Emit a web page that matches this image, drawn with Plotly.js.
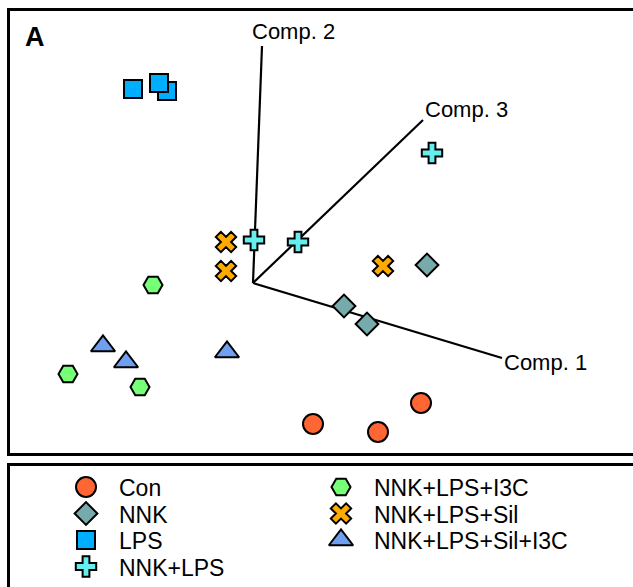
<!DOCTYPE html>
<html>
<head>
<meta charset="utf-8">
<script src="https://cdn.plot.ly/plotly-3.0.1.min.js"></script>
<style>html,body{margin:0;padding:0;background:#fff;}#chart{width:633px;height:587px;}</style>
</head>
<body>
<div id="chart"></div>
<script>
// Group names and projected scores
const groups = ["Con", "NNK", "LPS", "NNK+LPS", "NNK+LPS+I3C", "NNK+LPS+Sil", "NNK+LPS+Sil+I3C"];
const conX = [3.0, 6.25, 8.4],        conY = [-7.05, -7.45, -6.0];
const nnkX = [8.7, 4.55, 5.7],        nnkY = [0.9, -1.15, -2.05];
const lpsX = [-6.0, -4.3, -4.7],      lpsY = [9.7, 9.6, 10.0];
const nlX  = [0.05, 2.25, 8.95],      nlY  = [2.15, 2.05, 6.5];
const i3cX = [-5.0, -9.25, -5.65],    i3cY = [-0.1, -4.55, -5.2];
const silX = [-1.35, -1.35, 6.5],     silY = [2.05, 0.6, 0.85];
const siX  = [-7.5, -6.35, -1.3],     siY  = [-3.15, -3.95, -3.45];
// Component axis end points
const compNames = ["Comp. 1", "Comp. 2", "Comp. 3"];
const compX = [12.45, 0.45, 8.5];
const compY = [-3.75, 11.85, 8.15];

const xs = [conX, nnkX, lpsX, nlX, i3cX, silX, siX];
const ys = [conY, nnkY, lpsY, nlY, i3cY, silY, siY];
const symbols = ["circle", "diamond", "square", "cross", "hexagon2", "x", "triangle-up"];
const colors = ["#FF6633", "#77AAAA", "#00AEFF", "#66EEEE", "#77FF77", "#FFAA00", "#6F9FEF"];
const sizes = [20, 17.5, 18, 17, 19, 18, 21];

const FONT = "Liberation Sans, Arial, sans-serif";
const traces = [];
// component axes lines
compNames.forEach((n, i) => {
  traces.push({x: [0, compX[i]], y: [0, compY[i]], mode: "lines", type: "scatter",
    line: {color: "#000", width: 2.2}, hoverinfo: "skip", showlegend: false, cliponaxis: false});
});
groups.forEach((g, i) => {
  traces.push({x: xs[i], y: ys[i], name: g, mode: "markers", type: "scatter", showlegend: false,
    cliponaxis: false,
    marker: {symbol: symbols[i], size: sizes[i], color: colors[i], line: {color: "#000", width: 2}}});
});
// legend drawn on a second axis pair: column/row positions from group index
const legX = groups.map((g, i) => i < 4 ? 0 : 1);
const legY = groups.map((g, i) => i < 4 ? i : i - 4);
groups.forEach((g, i) => {
  traces.push({x: [legX[i]], y: [legY[i]], xaxis: "x2", yaxis: "y2", mode: "markers", type: "scatter",
    showlegend: false, cliponaxis: false, hoverinfo: "skip",
    marker: {symbol: symbols[i], size: sizes[i], color: colors[i], line: {color: "#000", width: 2}}});
});

const annotations = [];
groups.forEach((g, i) => {
  annotations.push({x: legX[i], y: legY[i], xref: "x2", yref: "y2", text: g, showarrow: false,
    xanchor: "left", yanchor: "middle", xshift: 31, yshift: -1, font: {family: FONT, size: 23, color: "#000"}});
});
const compAnchor = [
  {xanchor: "left", yanchor: "middle", xshift: 0, yshift: -4},
  {xanchor: "left", yanchor: "bottom", xshift: -12, yshift: 0},
  {xanchor: "left", yanchor: "middle", xshift: 0, yshift: 11}
];
compNames.forEach((n, i) => {
  annotations.push(Object.assign({x: compX[i], y: compY[i], xref: "x", yref: "y", text: n, showarrow: false,
    font: {family: FONT, size: 22, color: "#000"}}, compAnchor[i]));
});
annotations.push({x: 35 / 633, y: 1 - 37 / 587, xref: "paper", yref: "paper", text: "<b>A</b>", showarrow: false,
  xanchor: "center", yanchor: "middle", font: {family: FONT, size: 27, color: "#000"}});

const layout = {
  width: 633, height: 587,
  margin: {l: 0, r: 0, t: 0, b: 0, pad: 0},
  paper_bgcolor: "#fff", plot_bgcolor: "rgba(0,0,0,0)",
  showlegend: false,
  xaxis: {domain: [0, 1], range: [-12.65, 19.0], visible: false, fixedrange: true},
  yaxis: {domain: [0, 1], range: [-15.2, 14.15], visible: false, fixedrange: true},
  xaxis2: {domain: [0, 1], range: [-86 / 255, 547 / 255], visible: false, anchor: "y2", overlaying: "x"},
  yaxis2: {domain: [0, 1], range: [100 / 26.5, -487 / 26.5], visible: false, anchor: "x2", overlaying: "y"},
  shapes: [
    {type: "rect", xref: "paper", yref: "paper", x0: 8.5 / 633, x1: 1.02, y0: 1 - 454.5 / 587, y1: 1 - 9.5 / 587,
      line: {color: "#000", width: 3}, layer: "below"},
    {type: "rect", xref: "paper", yref: "paper", x0: 8.5 / 633, x1: 1.02, y0: -0.02, y1: 1 - 464.5 / 587,
      line: {color: "#000", width: 3}, layer: "below"}
  ],
  annotations: annotations,
  font: {family: FONT}
};
Plotly.newPlot("chart", traces, layout, {displayModeBar: false, staticPlot: true});
</script>
</body>
</html>
